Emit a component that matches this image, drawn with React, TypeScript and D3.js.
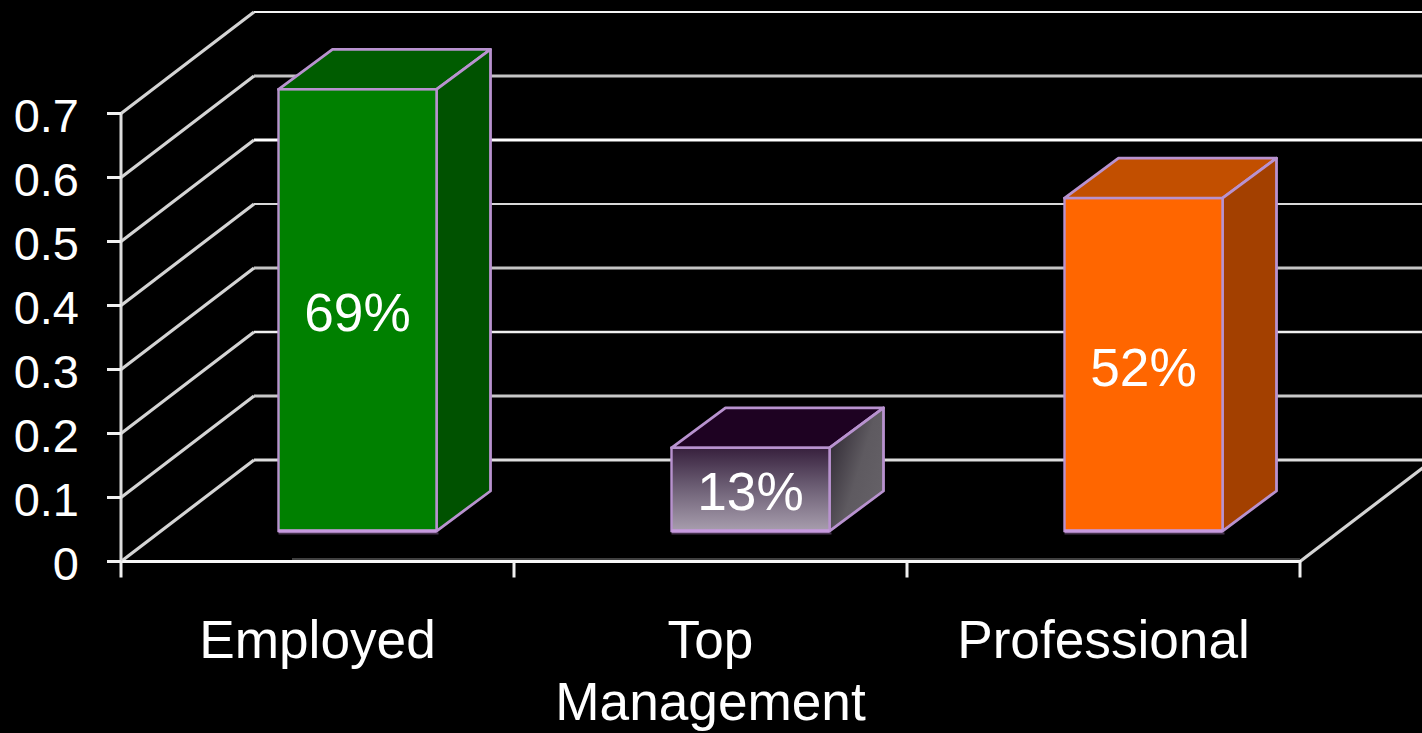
import React, { useEffect, useRef } from 'react';
import * as d3 from 'd3';

const categories = ['Employed', 'Top Management', 'Professional'];
const values = [0.69, 0.13, 0.52];
const valueLabels = ['69%', '13%', '52%'];
const yTicks = [0, 0.1, 0.2, 0.3, 0.4, 0.5, 0.6, 0.7];

// back wall grid lines come out in different weights in the picture
const gridWidths = [3, 3, 2.5, 3, 2, 3, 3, 2];
const gridColors = ['#dcdcdc', '#c8c8c8', '#f0f0f0', '#c4c4c4', '#d8d8d8', '#ffffff', '#c4c4c4', '#f4f4f4'];

const frontColors = ['#008000', 'url(#purpleFront)', '#ff6600'];
const topColors = ['#005c00', '#1e0222', '#c24f00'];
const sideColors = ['#005200', 'url(#purpleSide)', '#a34000'];

const width = 1422;
const height = 733;
const depthX = 133;
const depthY = 101.5;
const barDepthX = 54;
const barDepthY = 40;
const barWidth = 158;
const barFloor = 30.5;
const edge = '#b892cf';
const font = '"Liberation Sans", Arial, sans-serif';

const App: React.FC = () => {
    const svgRef = useRef<SVGSVGElement | null>(null);

    useEffect(() => {
        const svg = d3.select(svgRef.current);
        svg.selectAll('*').remove();

        const x = d3.scaleBand().domain(categories).range([121, 1300]).padding(0);
        const y = d3.scaleLinear().domain([0, 0.7]).range([561.5, 113.5]);
        const x0 = x.range()[0];
        const x1 = x.range()[1];

        // gradients for the purple bar
        const defs = svg.append('defs');
        const gf = defs.append('linearGradient').attr('id', 'purpleFront')
            .attr('x1', 0).attr('y1', 0).attr('x2', 0).attr('y2', 1);
        gf.append('stop').attr('offset', '0%').attr('stop-color', '#37203d');
        gf.append('stop').attr('offset', '45%').attr('stop-color', '#6a5c72');
        gf.append('stop').attr('offset', '100%').attr('stop-color', '#a89eae');
        const gs = defs.append('linearGradient').attr('id', 'purpleSide')
            .attr('x1', 0).attr('y1', 0).attr('x2', 1).attr('y2', 0.7);
        gs.append('stop').attr('offset', '0%').attr('stop-color', '#27202b');
        gs.append('stop').attr('offset', '60%').attr('stop-color', '#5e5a60');
        gs.append('stop').attr('offset', '100%').attr('stop-color', '#656167');

        svg.append('rect').attr('width', width).attr('height', height).attr('fill', '#000');

        // back wall grid
        svg.append('g').selectAll('line').data(yTicks).join('line')
            .attr('x1', x0 + depthX).attr('x2', width)
            .attr('y1', d => y(d) - depthY).attr('y2', d => y(d) - depthY)
            .attr('stroke', (_, i) => gridColors[i])
            .attr('stroke-width', (_, i) => gridWidths[i]);

        // side wall diagonals
        svg.append('g').selectAll('line').data(yTicks).join('line')
            .attr('x1', x0).attr('y1', d => y(d))
            .attr('x2', x0 + depthX).attr('y2', d => y(d) - depthY)
            .attr('stroke', '#d4d4d4').attr('stroke-width', 3.2);

        // floor edge on the right
        svg.append('line')
            .attr('x1', x1).attr('y1', y(0))
            .attr('x2', x1 + depthX).attr('y2', y(0) - depthY)
            .attr('stroke', '#d4d4d4').attr('stroke-width', 3.2);

        // axes
        svg.append('line').attr('x1', 292).attr('x2', x1).attr('y1', y(0) - 2.5).attr('y2', y(0) - 2.5)
            .attr('stroke', '#555').attr('stroke-width', 1.5);
        svg.append('line').attr('x1', x0 - 14).attr('x2', x1 + 1).attr('y1', y(0)).attr('y2', y(0))
            .attr('stroke', '#f8f8f8').attr('stroke-width', 3);
        svg.append('line').attr('x1', x0).attr('x2', x0).attr('y1', y(0.7)).attr('y2', y(0))
            .attr('stroke', '#dcdcdc').attr('stroke-width', 3);
        svg.append('g').selectAll('line').data(yTicks).join('line')
            .attr('x1', x0 - 14).attr('x2', x0).attr('y1', d => y(d)).attr('y2', d => y(d))
            .attr('stroke', '#f0f0f0').attr('stroke-width', 3);
        svg.append('g').selectAll('line').data([...categories.map(c => x(c) as number), x1]).join('line')
            .attr('x1', d => d).attr('x2', d => d).attr('y1', y(0)).attr('y2', y(0) + 16)
            .attr('stroke', '#f0f0f0').attr('stroke-width', 3);

        // bars
        const bars = svg.append('g').selectAll('g').data(categories).join('g');
        const base = y(0) - barFloor;
        const barTop = (i: number) => base - (y(0) - y(values[i]));
        const barLeft = (c: string) => (x(c) as number) + x.bandwidth() / 2 + 40 - barWidth / 2;
        const poly = (pts: number[][]) => d3.line()(pts as [number, number][]) + 'Z';

        bars.append('path')
            .attr('d', (c, i) => {
                const l = barLeft(c);
                const t = barTop(i);
                return poly([[l, t], [l + barDepthX, t - barDepthY], [l + barWidth + barDepthX, t - barDepthY], [l + barWidth, t]]);
            })
            .attr('fill', (_, i) => topColors[i])
            .attr('stroke', edge).attr('stroke-width', 2.8).attr('stroke-linejoin', 'round');

        bars.append('path')
            .attr('d', (c, i) => {
                const l = barLeft(c) + barWidth;
                const t = barTop(i);
                return poly([[l, t], [l + barDepthX, t - barDepthY], [l + barDepthX, base - barDepthY], [l, base]]);
            })
            .attr('fill', (_, i) => sideColors[i])
            .attr('stroke', edge).attr('stroke-width', 2.8).attr('stroke-linejoin', 'round');

        // shadow line under the front face
        bars.append('line')
            .attr('x1', c => barLeft(c)).attr('x2', c => barLeft(c) + barWidth + 2)
            .attr('y1', base + 2.5).attr('y2', base + 2.5)
            .attr('stroke', '#46324e').attr('stroke-width', 2);

        bars.append('rect')
            .attr('x', c => barLeft(c))
            .attr('y', (_, i) => barTop(i))
            .attr('width', barWidth)
            .attr('height', (_, i) => base - barTop(i))
            .attr('fill', (_, i) => frontColors[i])
            .attr('stroke', edge).attr('stroke-width', 2.4);

        bars.append('line')
            .attr('x1', c => barLeft(c)).attr('x2', c => barLeft(c) + barWidth)
            .attr('y1', base).attr('y2', base)
            .attr('stroke', '#c79adf').attr('stroke-width', 3.5);

        // value labels
        bars.append('text')
            .attr('x', c => barLeft(c) + barWidth / 2)
            .attr('y', (_, i) => (barTop(i) + base) / 2 + 21)
            .attr('text-anchor', 'middle')
            .attr('font-family', font).attr('font-size', 53.2).attr('fill', '#fff')
            .text((_, i) => valueLabels[i]);

        // y tick labels
        svg.append('g').selectAll('text').data(yTicks).join('text')
            .attr('x', 79).attr('y', d => y(d) + 18)
            .attr('text-anchor', 'end')
            .attr('font-family', font).attr('font-size', 47).attr('fill', '#fff')
            .text(d => String(d));

        // category labels, wrapped on the space only when too long
        const cat = svg.append('g').selectAll('text').data(categories).join('text')
            .attr('text-anchor', 'middle')
            .attr('font-family', font).attr('font-size', 53.2).attr('fill', '#fff');
        cat.each(function (c) {
            const el = d3.select(this);
            const cx = (x(c) as number) + x.bandwidth() / 2;
            const words = c === 'Top Management' ? c.split(' ') : [c];
            words.forEach((w, i) => {
                el.append('tspan').attr('x', cx).attr('y', 658 + i * 62).text(w);
            });
        });
    }, []);

    return (
        <svg
            ref={svgRef}
            width={width}
            height={height}
            style={{ position: 'absolute', left: 0, top: 0, display: 'block' }}
        ></svg>
    );
};

export default App;
